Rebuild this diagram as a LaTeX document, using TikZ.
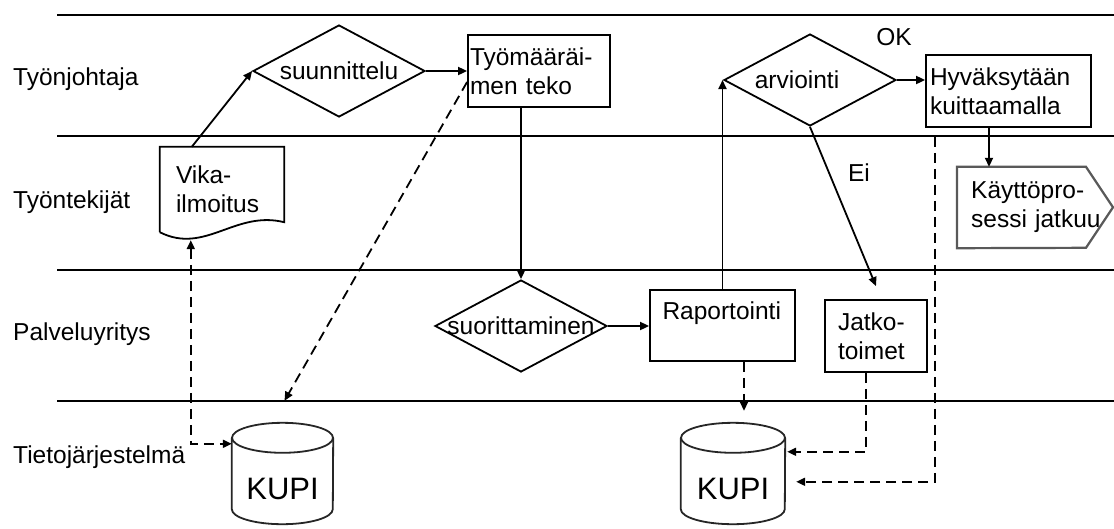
\documentclass[tikz,border=0pt]{standalone}
\usepackage{fontspec}
\setmainfont{Liberation Sans}
\usetikzlibrary{shapes.geometric,arrows.meta,calc}
\begin{document}
\begin{tikzpicture}[x=1pt,y=-1pt,
  >={Triangle[length=9pt,width=8pt]},
  txt/.style={font=\fontsize{24.5}{29}\selectfont},
  lane/.style={line width=2pt},
  lanename/.style={txt,inner sep=0pt,anchor=base west},
  flow/.style={line width=1.8pt,->},
  link/.style={line width=1.8pt,dash pattern=on 10pt off 6pt,->},
  decision/.style={diamond,draw,line width=1.8pt,inner sep=0pt,
    minimum width=172pt,minimum height=92pt,txt},
  task/.style={rectangle,draw,line width=1.8pt,align=left,inner ysep=0pt,txt},
  store/.style={rectangle,inner sep=0pt,minimum height=71pt,
    font=\fontsize{31}{31}\selectfont},
]
\useasboundingbox (0,0) rectangle (1114,528);
\fill[white] (0,0) rectangle (1114,528);

% swimlane separators and names
\foreach \y in {15,136,270,401} \draw[lane] (57,\y) -- (1114,\y);
\node[lanename] (lane1) at (13,85)  {Työnjohtaja};
\node[lanename] (lane2) at (13,208) {Työntekijät};
\node[lanename] (lane3) at (13,340) {Palveluyritys};
\node[lanename] (lane4) at (13,463) {Tietojärjestelmä};

% decisions
\node[decision] (suun) at (339,71)  {\makebox[0pt]{suunnittelu}};
\node[decision] (suor) at (521,326) {\makebox[0pt]{suorittaminen}};
\node[decision] (arv)  at (810,80)  {\makebox[0pt]{\kern-26pt arviointi}};

% tasks
\node[task,text width=138pt,inner xsep=2pt,minimum height=72pt] (tyo) at (539,71)
  {Työmääräi-\\men teko};
\node[task,text width=157pt,inner xsep=4pt,minimum height=72pt] (hyv) at (1008.5,91)
  {Hyväksytään\\kuittaamalla};
\node[task,text width=120pt,inner xsep=12.5pt,minimum height=71pt] (rap) at (722.5,325.5)
  {Raportointi\\\mbox{}};
\node[task,text width=76pt,inner xsep=13pt,minimum height=72pt] (jatko) at (876,336)
  {Jatko-\\toimet};

% fault report (document shape)
\node[txt,align=left,text width=92pt,inner xsep=16pt,inner ysep=0pt,minimum height=85pt]
  (vika) at (222,189.5) {Vika-\\ilmoitus};
\draw[line width=1.8pt] (vika.south west) -- (vika.north west) -- (vika.north east)
  -- ([yshift=10pt]vika.south east) .. controls (235,210) and (205,255) .. (vika.south west);

% continuation (off-page pointer shape)
\node[txt,align=left,text width=130pt,inner xsep=14pt,inner ysep=0pt,minimum height=81pt,
  anchor=west] (kay) at (957,207.5) {Käyttöpro-\\sessi jatkuu};
\draw[line width=2.2pt,draw=black!65] (kay.north west) -- ++(129,0) -- ++(27,40.5)
  -- ++(-27,40.5) -- (kay.south west) -- cycle;

% databases
\node[store,minimum width=101pt] (kupi1) at (282.5,488.5) {KUPI};
\node[store,minimum width=104pt] (kupi2) at (733,488.5) {KUPI};
\foreach \c/\r in {kupi1/50.5,kupi2/52}{
  \draw[line width=1.8pt,draw=black!85] ([yshift=15pt]\c.north west) -- ([yshift=15pt]\c.south west)
    arc[start angle=180,end angle=360,x radius=\r pt,y radius=15pt]
    -- ([yshift=15pt]\c.north east);
  \draw[line width=1.8pt,draw=black!85] ([yshift=15pt]\c.north) ellipse[x radius=\r pt,y radius=15pt];
}

% control flow
\draw[flow] ([xshift=32pt]vika.north west) -- (suun.west);
\draw[flow] (suun.east) -- (suun.east -| tyo.west);
\draw[flow] (suor.north |- tyo.south) -- (suor.north);
\draw[flow] (suor.east) -- (suor.east -| rap.west);
\draw[flow] (rap.north) -- (rap.north |- arv.west);
\draw[flow] (arv.east) -- (arv.east -| hyv.west);
\draw[flow] ([xshift=-19.5pt]hyv.south) -- ([xshift=-19.5pt]hyv.south |- kay.north);
\draw[flow] (arv.south) -- ([yshift=13pt]jatko.north);
\node[txt] (ok) at (894,37) {OK};
\node[txt] (ei) at (859,173) {Ei};

% information flow to and from the system
\draw[link,<->] ([xshift=31pt,yshift=-8pt]vika.south west) |- ([yshift=9pt]kupi1.north west);
\draw[link] ([yshift=-11pt]tyo.west) -- ([xshift=2pt,yshift=52pt]kupi1.north);
\draw[link] ([xshift=21.5pt]rap.south) -- ([xshift=11pt,yshift=42pt]kupi2.north);
\draw[link] ([xshift=-10pt]jatko.south) |- ([xshift=2pt,yshift=1pt]kupi2.north east);
\draw[link] ([xshift=10pt,yshift=-9pt]hyv.south west) |- ([xshift=11pt,yshift=-29pt]kupi2.north east);
\end{tikzpicture}
\end{document}
